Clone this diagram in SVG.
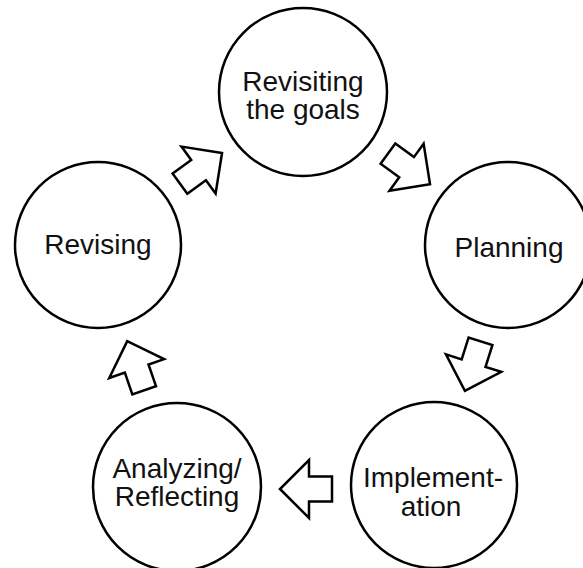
<svg xmlns="http://www.w3.org/2000/svg" width="583" height="568" viewBox="0 0 583 568">
<defs>
<style>
.node circle{fill:#fff;stroke:#000;stroke-width:2.5}
.node text{font-family:"Liberation Sans",Arial,sans-serif;font-size:28px;fill:#111;text-anchor:middle}
.arr{fill:#fff;stroke:#000;stroke-width:2.5;stroke-linejoin:miter}
</style>
<polygon id="blk" points="26,0 -3,-29 -3,-12.5 -26,-12.5 -26,12.5 -3,12.5 -3,29"/>
</defs>
<rect width="583" height="568" fill="#fff"/>
<g id="connectors">
<use href="#blk" class="arr" transform="translate(201,168.3) rotate(-36)"/>
<use href="#blk" class="arr" transform="translate(409,169) rotate(36)"/>
<use href="#blk" class="arr" transform="translate(472.7,366) rotate(107.5)"/>
<use href="#blk" class="arr" transform="translate(306,489) rotate(180)"/>
<use href="#blk" class="arr" transform="translate(135.7,365.7) rotate(-109)"/>
</g>
<g id="revisiting" class="node">
<circle cx="303" cy="92" r="84"/>
<text x="303" y="91">Revisiting</text>
<text x="303" y="119">the goals</text>
</g>
<g id="planning" class="node">
<circle cx="508" cy="245" r="83"/>
<text x="509" y="257">Planning</text>
</g>
<g id="implementation" class="node">
<circle cx="434" cy="485" r="83"/>
<text x="433" y="487">Implement-</text>
<text x="431" y="516">ation</text>
</g>
<g id="analyzing" class="node">
<circle cx="177" cy="487" r="84"/>
<text x="177" y="478">Analyzing/</text>
<text x="177" y="506">Reflecting</text>
</g>
<g id="revising" class="node">
<circle cx="98" cy="245" r="83"/>
<text x="98" y="254">Revising</text>
</g>
</svg>
